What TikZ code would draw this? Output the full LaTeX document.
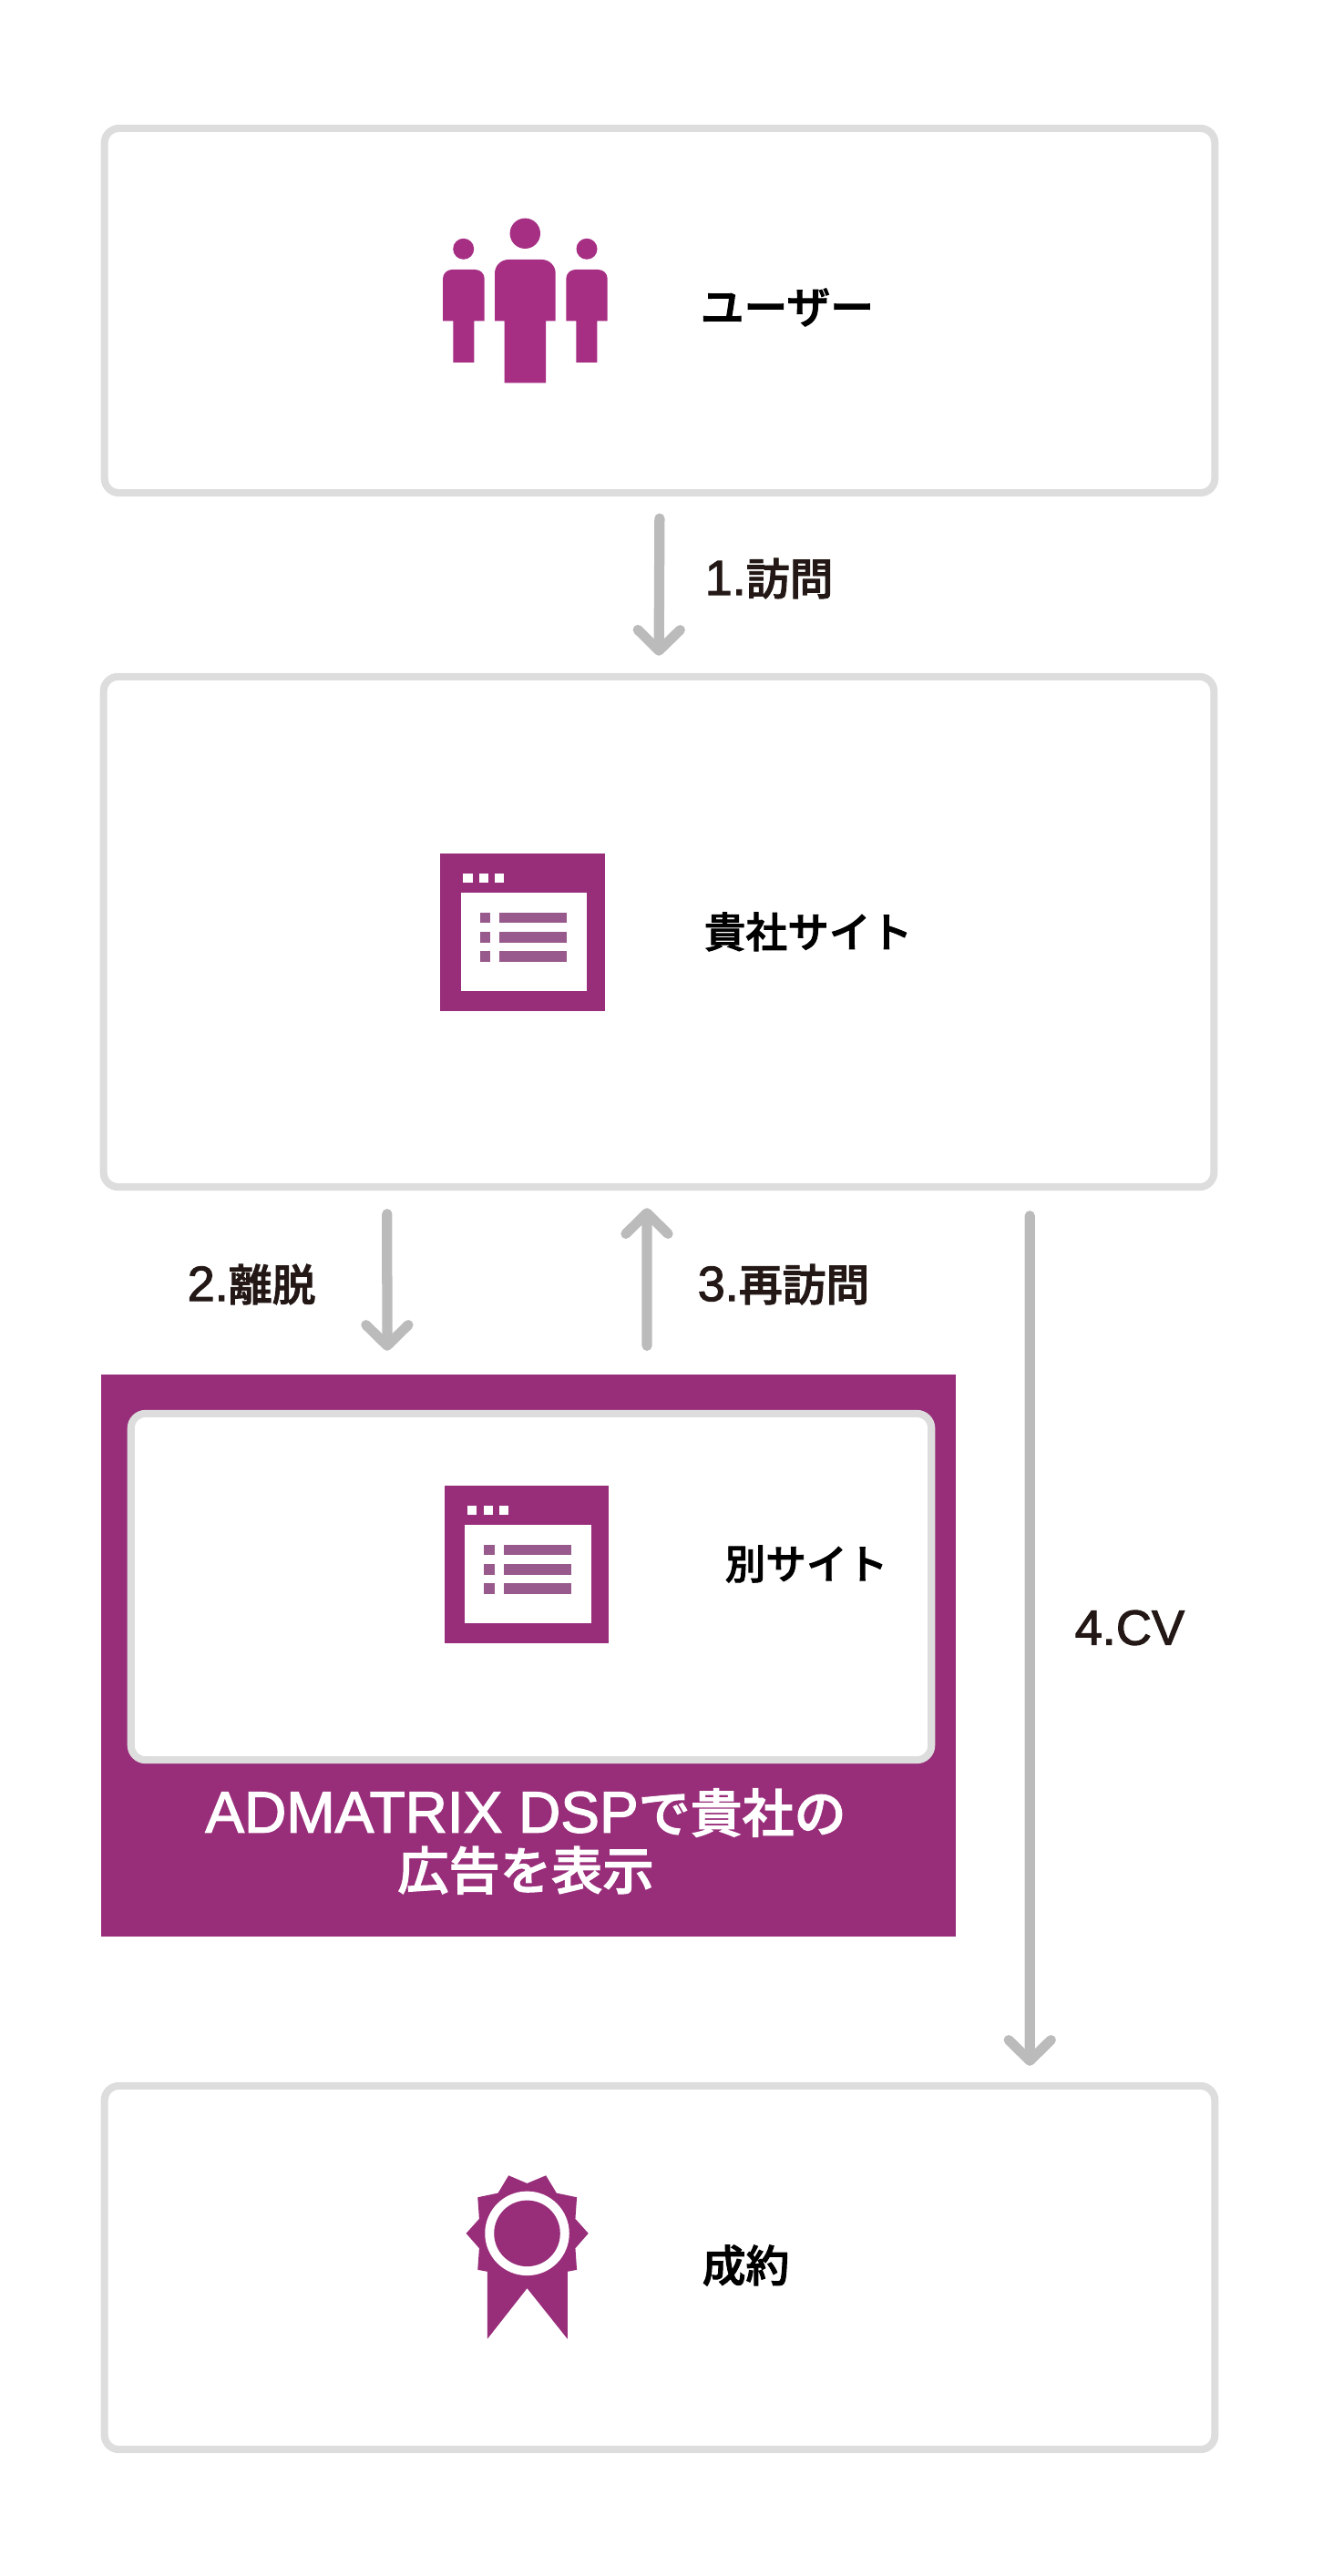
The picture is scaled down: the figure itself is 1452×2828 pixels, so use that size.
\documentclass[tikz,border=0pt]{standalone}
\usepackage{fontspec}
\setmainfont{Liberation Sans}
\newfontfamily\cjk[FakeBold=2]{Noto Sans CJK JP Medium}
\newfontfamily\numfont[FakeBold=2]{Liberation Sans}
\usetikzlibrary{arrows.meta}
\definecolor{plum}{HTML}{982D7A}
\definecolor{plumlight}{HTML}{A62F84}
\definecolor{plumlist}{HTML}{985A8C}
\definecolor{panelline}{HTML}{DDDDDD}
\definecolor{flowline}{HTML}{BBBBBB}
\definecolor{inktext}{HTML}{231815}
\newcommand\stepno[2]{{\fontsize{15.4}{18}\selectfont\numfont #1}{\fontsize{13.6}{16}\selectfont\cjk #2}}
\tikzset{
  panel/.style={draw=panelline,line width=2.3pt,rounded corners=0.16cm,fill=white,inner sep=0pt},
  flow/.style={draw=flowline,line width=3.2pt,line cap=round,
    -{Straight Barb[round,length=6.5pt,width=13.2pt,line width=3.1pt]}},
  lbl/.style={text=inktext,inner sep=0pt},
  wintitle/.style={font=\fontsize{13.6}{16}\selectfont\cjk,text=black,inner sep=0pt},
  window/.pic={
    \fill[plum] (0,0) rectangle (180.4,172.4);
    \fill[white] (22.4,43) rectangle (160.7,151);
    \foreach \bx in {25,42.6,59.5} \fill[white] (\bx,22) rectangle ++(10.2,10);
    \foreach \by in {64.7,86,107} {
      \fill[plumlist] (43.4,\by) rectangle ++(11.3,11.4);
      \fill[plumlist] (64.7,\by) rectangle ++(74,11.4);
    }
  }
}
\begin{document}
\begin{tikzpicture}[x=0.01cm,y=-0.01cm]
  \useasboundingbox (0,0) rectangle (1452,2828);
  % panels
  \node[panel,minimum width=12.18cm,minimum height=4cm] (user) at (724,341) {};
  \node[panel,minimum width=12.18cm,minimum height=5.6cm] (site) at (723,1023) {};
  \node[fill=plum,minimum width=9.38cm,minimum height=6.17cm,inner sep=0pt,outer sep=0pt] (ad) at (580,1817.5) {};
  \node[panel,minimum width=8.78cm,minimum height=3.8cm] (other) at (583,1742) {};
  \node[panel,minimum width=12.18cm,minimum height=3.99cm] (goal) at (724,2489.5) {};
  % people
  \fill[plumlight] (576.3,256.3) circle (16.7);
  \fill[plumlight] (508.7,273.3) circle (11.5);
  \fill[plumlight] (644,273.3) circle (11.5);
  \fill[plumlight] (543,352.3) [rounded corners=0.15cm] -- (543,285) -- (609.7,285) [sharp corners] -- (609.7,352.3) -- (599,352.3) -- (599,420.3) -- (553.7,420.3) -- (553.7,352.3) -- cycle;
  \fill[plumlight] (486,352.3) [rounded corners=0.1cm] -- (486,296) -- (531.7,296) [sharp corners] -- (531.7,352.3) -- (520.3,352.3) -- (520.3,398) -- (497.3,398) -- (497.3,352.3) -- cycle;
  \fill[plumlight] (621.3,352.3) [rounded corners=0.1cm] -- (621.3,296) -- (666.7,296) [sharp corners] -- (666.7,352.3) -- (655.3,352.3) -- (655.3,398) -- (632.3,398) -- (632.3,352.3) -- cycle;
  % windows
  \pic at (483.3,937.3) {window};
  \pic at (488,1631.3) {window};
  % medal
  \begin{scope}[shift={(480,2360)},x=0.00333cm,y=-0.00333cm]
    \fill[plum] (296,111) -- (358,85) -- (393,143) -- (460,157) -- (455,228) -- (498,276) -- (455,325) -- (460,396) -- (429,402) -- (429,624) -- (296,457) -- (165,624) -- (165,402) -- (133,396) -- (138,325) -- (95,276) -- (138,228) -- (133,157) -- (200,143) -- (235,85) -- cycle;
    \fill[white] (296,276) circle (139);
    \fill[plum] (296,276) circle (109);
  \end{scope}
  % connectors
  \draw[flow,shorten <=0.24cm,shorten >=0.19cm] (user.south) -- (site.north);
  \draw[flow,shorten <=0.255cm,shorten >=0.26cm] ([xshift=-2.98cm]site.south) -- ([xshift=-1.55cm]ad.north);
  \draw[flow,shorten <=0.315cm,shorten >=0.19cm] ([xshift=1.3cm]ad.north) -- ([xshift=-0.13cm]site.south);
  \draw[flow,shorten <=0.275cm,shorten >=0.18cm] ([xshift=4.07cm]site.south) -- ([xshift=4.06cm]goal.north);
  % labels
  \node[wintitle,anchor=west] (usertxt) at (768,337.5) {ユーザー};
  \node[wintitle,anchor=west,font=\fontsize{13}{16}\selectfont\cjk] (sitetxt) at (772,1023) {貴社サイト};
  \node[wintitle,anchor=west,font=\fontsize{12.7}{16}\selectfont\cjk] (othertxt) at (795,1717) {別サイト};
  \node[wintitle,anchor=west] (goaltxt) at (770,2487) {成約};
  \node[lbl,anchor=west] (step1) at (773,635) {\stepno{1.}{訪問}};
  \node[lbl,anchor=west] (step2) at (205,1410) {\stepno{2.}{離脱}};
  \node[lbl,anchor=west] (step3) at (765,1410) {\stepno{3.}{再訪問}};
  \node[lbl,anchor=west] (step4) at (1179,1787) {\stepno{4.CV}{}};
  \node[text=white,inner sep=0pt,align=center] (adtxt) at (577,2021.5) {%
    \fontsize{18.2}{19}\selectfont\numfont ADMATRIX DSP{\fontsize{16.2}{19}\selectfont\cjk で貴社の}\\[1.9pt]
    {\fontsize{16}{19}\selectfont\cjk 広告を表示}};
\end{tikzpicture}
\end{document}
